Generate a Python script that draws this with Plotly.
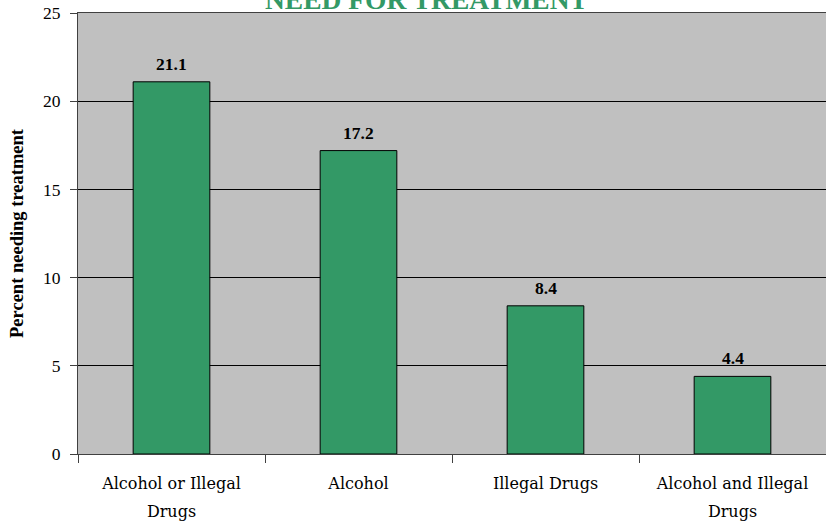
import plotly.graph_objects as go

categories = ["Alcohol or Illegal<br>Drugs", "Alcohol", "Illegal Drugs", "Alcohol and Illegal<br>Drugs"]
values = [21.1, 17.2, 8.4, 4.4]
value_labels = ["21.1", "17.2", "8.4", "4.4"]
title_text = "NEED FOR TREATMENT"
y_title = "Percent needing treatment"
y_ticks = [0, 5, 10, 15, 20, 25]

serif = "Liberation Serif, Times New Roman, serif"
wide_serif = "DejaVu Serif, serif"


def tick_label(s):
    # inner span sets glyph size; outer tick font size sets the line spacing
    return "<br>".join('<span style="font-size:16px">%s</span>' % p for p in s.split("<br>"))


fig = go.Figure()
fig.add_trace(go.Bar(
    x=categories, y=values,
    marker=dict(color="#339966", line=dict(color="#000000", width=1)),
    width=0.41,
    hoverinfo="skip",
))

for c, v, t in zip(categories, values, value_labels):
    fig.add_annotation(x=c, y=v, text="<b>%s</b>" % t, showarrow=False,
                       yanchor="middle", yshift=18,
                       font=dict(family=serif, size=17.5, color="#000000"))

fig.add_annotation(xref="paper", yref="paper", x=0.466, y=1.0, yanchor="middle",
                   yshift=14, text="<b>%s</b>" % title_text, showarrow=False,
                   font=dict(family=serif, size=27.5, color="#339966"))

fig.update_layout(
    width=826, height=523,
    margin=dict(l=78, r=0, t=13, b=69, autoexpand=False),
    paper_bgcolor="#FFFFFF",
    plot_bgcolor="#C0C0C0",
    showlegend=False,
    font=dict(family=serif, size=14, color="#000000"),
)
fig.update_xaxes(
    type="category", range=[-0.5, 3.5], automargin=False,
    tickmode="array", tickvals=categories, ticktext=[tick_label(c) for c in categories],
    tickson="boundaries", ticks="outside", ticklen=8, tickcolor="#404040",
    showline=True, linecolor="#404040", linewidth=1, mirror=True,
    showgrid=False, ticklabelstandoff=8,
    tickfont=dict(family=wide_serif, size=21.5, color="#000000"),
)
fig.update_yaxes(
    range=[0, 25], tickvals=y_ticks, ticks="outside", ticklen=7, tickcolor="#404040",
    showline=True, linecolor="#404040", linewidth=1, automargin=False,
    showgrid=True, gridcolor="#000000", gridwidth=1, zeroline=False,
    ticklabelstandoff=6,
    tickfont=dict(family=serif, size=17.5),
    title=dict(text="<b>%s</b>" % y_title, font=dict(family=serif, size=18.5), standoff=14),
)

fig.write_html("out.html", config={"displayModeBar": False},
               post_script="document.body.style.margin='0';")
